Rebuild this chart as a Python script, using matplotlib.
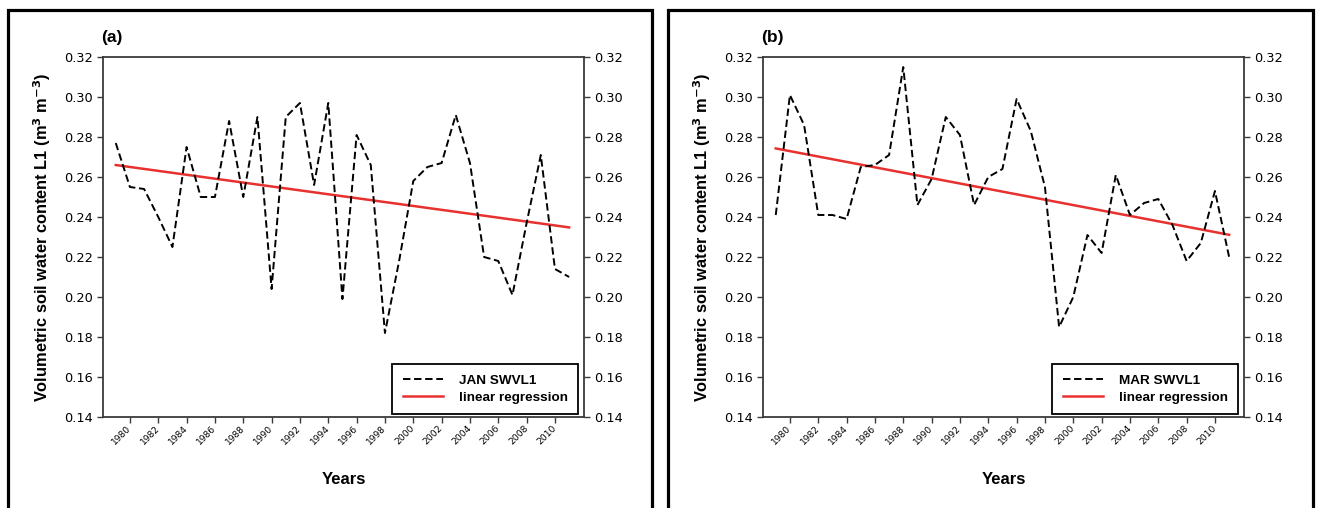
import numpy as np
import matplotlib
matplotlib.use("Agg")
import matplotlib.pyplot as plt
from matplotlib.patches import Rectangle

plt.rcParams['font.family'] = ['Liberation Sans', 'DejaVu Sans']

# Years of record and monthly mean top-layer soil moisture (m3 m-3)
years = np.arange(1979, 2012)

jan_swvl1 = [0.277, 0.255, 0.254, 0.240, 0.225, 0.275, 0.250, 0.250, 0.288,
             0.250, 0.290, 0.204, 0.290, 0.297, 0.256, 0.297, 0.199, 0.281,
             0.266, 0.182, 0.218, 0.258, 0.265, 0.267, 0.291, 0.267, 0.220,
             0.218, 0.201, 0.237, 0.271, 0.214, 0.210]

mar_swvl1 = [0.241, 0.301, 0.286, 0.241, 0.241, 0.239, 0.265, 0.266, 0.271,
             0.315, 0.246, 0.259, 0.290, 0.281, 0.246, 0.260, 0.264, 0.299,
             0.283, 0.255, 0.185, 0.200, 0.231, 0.222, 0.261, 0.241, 0.247,
             0.249, 0.236, 0.218, 0.227, 0.253, 0.220]

x_ticks = np.arange(1980, 2011, 2)
y_ticks = np.arange(0.14, 0.3201, 0.02)

panels = [
    ("(a)", jan_swvl1, "JAN SWVL1"),
    ("(b)", mar_swvl1, "MAR SWVL1"),
]

W, H = 1318, 508
fig = plt.figure(figsize=(W / 100, H / 100), dpi=100)

# panel frames (open at the bottom edge of the figure)
for x0, x1 in [(8, 652), (668, 1313)]:
    fig.add_artist(Rectangle((x0 / W, -0.05), (x1 - x0) / W, 1.05 - 10 / H,
                             transform=fig.transFigure, fill=False,
                             lw=2.3, ec='black', clip_on=False))

spine_col = '#3a3a3a'
red = '#e8312f'

for i, (tag, vals, name) in enumerate(panels):
    left = (103 + 660 * i) / W
    ax = fig.add_axes([left, 1 - 417 / H, 481 / W, 360 / H])
    vals = np.asarray(vals)

    ax.plot(years, vals, color='black', lw=1.4, dashes=(3.8, 1.9),
            label=name, zorder=3)
    slope, intercept = np.polyfit(years, vals, 1)
    ax.plot(years, slope * years + intercept, color=red, lw=1.8,
            label='linear regression', zorder=2)

    ax.set_xlim(1978.1, 2012.05)
    ax.set_ylim(0.14, 0.32)
    ax.set_xticks(x_ticks)
    ax.set_xticklabels([str(y) for y in x_ticks], rotation=45, ha='right',
                       va='center', rotation_mode='anchor', fontsize=6.6,
                       family='DejaVu Sans')
    ax.set_yticks(y_ticks)
    ax.tick_params(axis='y', left=True, right=True,
                   labelleft=True, labelright=True, direction='out',
                   length=4, width=1.0, color=spine_col, pad=3)
    ax.tick_params(axis='x', direction='out', length=4, width=1.0,
                   color=spine_col, pad=3)
    ax.yaxis.set_major_formatter(plt.FuncFormatter(lambda v, p: f"{v:.2f}"))
    for t in ax.yaxis.get_major_ticks():
        for lab in (t.label1, t.label2):
            lab.set_family('DejaVu Sans')
            lab.set_fontsize(9.3)
    for s in ax.spines.values():
        s.set_color(spine_col)
        s.set_linewidth(1.3)

    ax.set_ylabel(r"Volumetric soil water content L1 (m$^\mathbf{3}$ m$^\mathbf{-3}$)",
                  fontsize=11.8, fontweight='bold')
    ax.yaxis.set_label_coords(-0.104, 0.5)
    ax.set_xlabel("Years", fontsize=12, fontweight='bold')
    ax.xaxis.set_label_coords(0.501, -0.152)
    ax.text(-0.004, 1.053, tag, transform=ax.transAxes, ha='left',
            va='center', fontsize=12.5, fontweight='bold')

    leg = ax.legend(loc='lower right', bbox_to_anchor=(0.988, 0.008),
                    fancybox=False, framealpha=1, edgecolor='black',
                    prop={'weight': 'bold', 'size': 9.7}, handlelength=3.0,
                    handletextpad=1.2, borderpad=0.75, labelspacing=0.35,
                    borderaxespad=0)
    leg.get_frame().set_linewidth(1.3)

fig.savefig("out.png", dpi=100)
